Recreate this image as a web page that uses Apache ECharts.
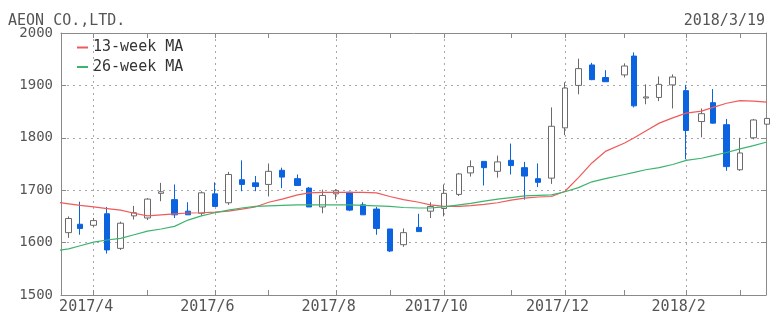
<!DOCTYPE html>
<html>
<head>
<meta charset="utf-8">
<script src="https://cdn.jsdelivr.net/npm/echarts@6/dist/echarts.min.js"></script>
<style>
html,body{margin:0;padding:0;background:#fff;}
#chart{width:780px;height:319px;}
</style>
</head>
<body>
<div id="chart"></div>
<script>
// ---- data (weekly candles, placed at first trading day of each week) ----
const titleText = 'AEON CO.,LTD.';
const dateText = '2018/3/19';
const dates = [
  '2017-03-21','2017-03-27','2017-04-03','2017-04-10','2017-04-17','2017-04-24',
  '2017-05-01','2017-05-08','2017-05-15','2017-05-22','2017-05-29','2017-06-05',
  '2017-06-12','2017-06-19','2017-06-26','2017-07-03','2017-07-10','2017-07-18',
  '2017-07-24','2017-07-31','2017-08-07','2017-08-14','2017-08-21','2017-08-28',
  '2017-09-04','2017-09-11','2017-09-19','2017-09-25','2017-10-02','2017-10-10',
  '2017-10-16','2017-10-23','2017-10-30','2017-11-06','2017-11-13','2017-11-20',
  '2017-11-27','2017-12-04','2017-12-11','2017-12-18','2017-12-25','2018-01-04',
  '2018-01-09','2018-01-15','2018-01-22','2018-01-29','2018-02-05','2018-02-13',
  '2018-02-19','2018-02-26','2018-03-05','2018-03-12','2018-03-19'
];
const opens = [
  1619,1635,1633,1655,1589,1651,1647,1694,1682,1660,1656,1693,
  1676,1720,1714,1711,1738,1722,1704,1668,1693,1696,1672,1664,
  1626,1596,1629,1660,1665,1692,1733,1755,1736,1757,1743,1722,
  1723,1819,1900,1939,1915,1920,1956,1876,1877,1901,1890,1831,
  1867,1825,1739,1800,1826
];
const closes = [
  1646,1627,1642,1586,1637,1657,1683,1697,1653,1653,1695,1669,
  1730,1711,1707,1736,1725,1709,1668,1690,1699,1662,1653,1627,
  1584,1619,1621,1669,1694,1731,1745,1743,1754,1747,1727,1715,
  1822,1895,1932,1911,1907,1937,1861,1878,1902,1916,1814,1846,
  1828,1745,1771,1834,1837
];
const lows = [
  1609,1615,1629,1579,1586,1644,1643,1679,1647,1653,1651,1669,
  1672,1698,1698,1688,1704,1709,1668,1656,1682,1660,1653,1615,
  1582,1592,1621,1647,1650,1689,1726,1709,1724,1730,1682,1706,
  1712,1805,1883,1910,1907,1915,1858,1864,1870,1856,1759,1801,
  1827,1737,1737,1797,1824
];
const highs = [
  1650,1678,1647,1668,1640,1670,1685,1714,1711,1677,1698,1715,
  1735,1757,1727,1751,1743,1730,1706,1701,1702,1697,1677,1668,
  1626,1627,1655,1677,1711,1733,1757,1755,1766,1789,1754,1751,
  1858,1906,1951,1943,1929,1942,1963,1902,1917,1921,1901,1856,
  1893,1836,1800,1836,1838
];
// moving averages: one value before the first candle, then one per candle
const maLeadDate = '2017-03-13';
const ma13 = [
  1678,
  1674,1671,1668,1665,1662,1656,1651,1653,1655,1656.5,1657,1658,
  1660,1664,1668,1677,1683,1691,1695,1696,1696,1696,1696,1695,
  1688,1682,1677,1672,1669,1669,1670.5,1673,1676,1681,1685,1687,
  1688,1698,1724,1752,1774,1790,1800,1813,1828,1838,1847,1851,
  1858,1866,1871,1870,1868
];
const ma26 = [
  1584,
  1588,1594,1601,1605,1608,1615,1622,1626,1631,1643,1651,1657,
  1662,1666,1669,1670,1671,1672,1672,1672,1672,1672,1671,1670,
  1669,1667,1666,1666,1668,1672,1675,1679,1683,1686,1689,1690,
  1691,1697,1705,1716,1722,1730,1734,1739,1743,1749,1757,1761,
  1766,1772,1779,1785,1792
];
const xMinDate = '2017-03-17';
const xMaxDate = '2018-03-18';

// ---- derived: dates -> day numbers for a linear (calendar) x axis ----
function ymd(s){ const p = s.split('-').map(Number); return p; }
function dayNum(s){ const p = ymd(s); return Date.UTC(p[0], p[1] - 1, p[2]) / 864e5; }
const xMin = dayNum(xMinDate);
const xMax = dayNum(xMaxDate) + 0.5;
const monthStarts = [];
const labelStarts = [];
const labelText = {};
for (let i = 1; i < dates.length; i++) {
  const a = ymd(dates[i - 1]), b = ymd(dates[i]);
  const dn = dayNum(dates[i]);
  if (a[1] !== b[1] && dn <= xMax) {
    monthStarts.push(dn);
    if (b[1] % 2 === 0) { labelStarts.push(dn); labelText[dn] = b[0] + '/' + b[1]; }
  }
}
const candleData = dates.map((d, i) => [dayNum(d), opens[i], closes[i], lows[i], highs[i]]);
const maDates = [maLeadDate].concat(dates);
const ma13Data = maDates.map((d, i) => [dayNum(d), ma13[i]]);
const ma26Data = maDates.map((d, i) => [dayNum(d), ma26[i]]);

const FONT = 'DejaVu Sans Mono';
const frame = '#8a8a8a';
const gridCol = '#a8a8a8';

const chart = echarts.init(document.getElementById('chart'), null, {renderer: 'canvas'});
chart.setOption({
  animation: false,
  backgroundColor: '#fff',
  title: [
    {text: titleText, left: 8, top: 12, padding: 0,
     textStyle: {fontFamily: FONT, fontSize: 15, fontWeight: 'normal', color: '#555', lineHeight: 18}},
    {text: dateText, right: 15, top: 12, padding: 0,
     textStyle: {fontFamily: FONT, fontSize: 15, fontWeight: 'normal', color: '#555', lineHeight: 18}}
  ],
  legend: {
    orient: 'vertical', left: 77, top: 40, padding: 0,
    itemWidth: 11, itemHeight: 2, itemGap: 4.5, icon: 'rect',
    textStyle: {fontFamily: FONT, fontSize: 15, color: '#333', lineHeight: 15},
    data: ['13-week MA', '26-week MA']
  },
  grid: {left: 61, right: 14, top: 33, bottom: 24},
  xAxis: [
    {type: 'value', position: 'bottom', min: xMin, max: xMax, scale: true,
     axisLine: {show: true, onZero: false, lineStyle: {color: frame, width: 1}},
     axisTick: {show: true, inside: true, length: 5, customValues: monthStarts, lineStyle: {color: frame}},
     axisLabel: {show: true, customValues: labelStarts, margin: 5, padding: [0, 15, 0, 0],
       fontFamily: FONT, fontSize: 15, color: '#555',
       formatter: function (v) { return labelText[v] || ''; }},
     splitLine: {show: false}},
    {type: 'value', position: 'top', min: xMin, max: xMax, scale: true,
     axisLine: {show: true, onZero: false, lineStyle: {color: frame, width: 1}},
     axisTick: {show: true, inside: true, length: 5, customValues: monthStarts, lineStyle: {color: frame}},
     axisLabel: {show: false},
     splitLine: {show: false}},
    {type: 'value', position: 'bottom', min: xMin, max: xMax, scale: true,
     axisLine: {show: false},
     axisTick: {show: false, customValues: labelStarts},
     axisLabel: {show: false},
     splitLine: {show: true, lineStyle: {color: gridCol, type: [2, 4], width: 1}}}
  ],
  yAxis: [
    {type: 'value', position: 'left', min: 1500, max: 2000, interval: 100,
     axisLine: {show: true, onZero: false, lineStyle: {color: frame, width: 1}},
     axisTick: {show: true, inside: true, length: 5, lineStyle: {color: frame}},
     axisLabel: {margin: 8, fontFamily: FONT, fontSize: 14, color: '#555',
       formatter: function (v) { return String(v); }},
     splitLine: {show: true, lineStyle: {color: gridCol, type: [2, 4], width: 1}}},
    {type: 'value', position: 'right', min: 1500, max: 2000, interval: 100,
     axisLine: {show: true, onZero: false, lineStyle: {color: frame, width: 1}},
     axisTick: {show: true, inside: true, length: 5, lineStyle: {color: frame}},
     axisLabel: {show: false},
     splitLine: {show: false}}
  ],
  series: [
    {name: '13-week MA', type: 'line', data: ma13Data, xAxisIndex: 0, yAxisIndex: 0,
     symbol: 'none', clip: true, color: '#f05a5a',
     lineStyle: {color: '#f05a5a', width: 1.2}},
    {name: '26-week MA', type: 'line', data: ma26Data, xAxisIndex: 0, yAxisIndex: 0,
     symbol: 'none', clip: true, color: '#3cb46e',
     lineStyle: {color: '#3cb46e', width: 1.2}},
    {name: 'price', type: 'candlestick', data: candleData, xAxisIndex: 0, yAxisIndex: 0,
     barWidth: 6, clip: true,
     itemStyle: {color: '#ffffff', color0: '#0b63e0', borderColor: '#6a6a6a', borderColor0: '#0b63e0', borderWidth: 1}}
  ]
});
</script>
</body>
</html>
